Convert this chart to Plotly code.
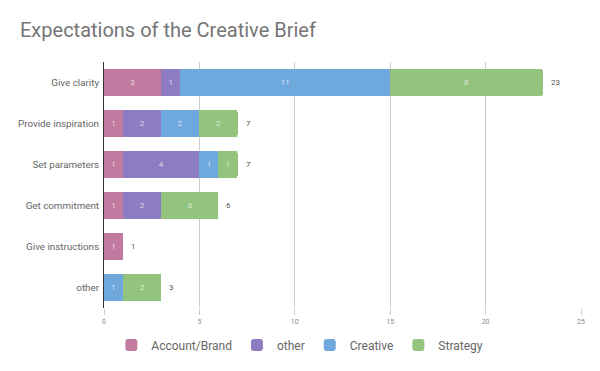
import plotly.graph_objects as go

categories = ["Give clarity", "Provide inspiration", "Set parameters",
              "Get commitment", "Give instructions", "other"]
account_brand = [3, 1, 1, 1, 1, None]
other = [1, 2, 4, 2, None, None]
creative = [11, 2, 1, None, None, 1]
strategy = [8, 2, 1, 3, None, 2]
totals = [23, 7, 7, 6, 1, 3]
x_ticks = [0, 5, 10, 15, 20, 25]

series = [
    ("Account/Brand", account_brand, "#C27BA0"),
    ("other", other, "#8E7CC3"),
    ("Creative", creative, "#6FA8DC"),
    ("Strategy", strategy, "#93C47D"),
]

# page body has an 8px margin; figure is sized/placed to compensate
W, H = 592, 363

fig = go.Figure()
for name, vals, color in series:
    fig.add_trace(go.Bar(
        y=categories, x=vals, name=name, orientation="h",
        marker=dict(color=color, line=dict(width=0)),
        text=vals, texttemplate="%{x}", textposition="inside",
        insidetextanchor="middle",
        textfont=dict(family="Roboto", size=8, color="rgba(255,255,255,0.7)"),
        hoverinfo="skip",
    ))

for cat, tot in zip(categories, totals):
    fig.add_annotation(x=tot, y=cat, text=str(tot), showarrow=False,
                       xanchor="left", xshift=6,
                       font=dict(family="Roboto", size=8, color="#555555"))

fig.update_layout(
    barmode="stack",
    bargap=0.34,
    barcornerradius=2,
    width=W, height=H,
    paper_bgcolor="white", plot_bgcolor="white",
    margin=dict(l=96, r=19, t=54, b=63, autoexpand=False),
    title=dict(text="Expectations of the Creative Brief",
               xref="container", x=12 / W, xanchor="left",
               yref="container", y=1 - 22 / H, yanchor="middle",
               font=dict(family="Roboto", size=20, color="#757575")),
    xaxis=dict(range=[0, 25], tickvals=x_ticks, showgrid=True, gridcolor="#CCCCCC",
               gridwidth=1, zeroline=False, showline=False,
               tickfont=dict(family="Roboto", size=7, color="#888888"),
               ticks="outside", ticklen=6, tickcolor="#CCCCCC", tickwidth=1,
               ticklabelstandoff=1, automargin=False),
    yaxis=dict(autorange="reversed", showgrid=False, showline=True,
               linecolor="#333333", linewidth=1, ticks="",
               ticklabelstandoff=2, automargin=False,
               tickfont=dict(family="Roboto", size=9.8, color="#666666")),
    legend=dict(orientation="h", xref="container", x=0.493, xanchor="center",
                yref="container", y=1 - 337 / H, yanchor="middle",
                font=dict(family="Roboto", size=12, color="#666666"),
                traceorder="normal", itemwidth=30),
    showlegend=True,
)

fig.write_html("out.html")
